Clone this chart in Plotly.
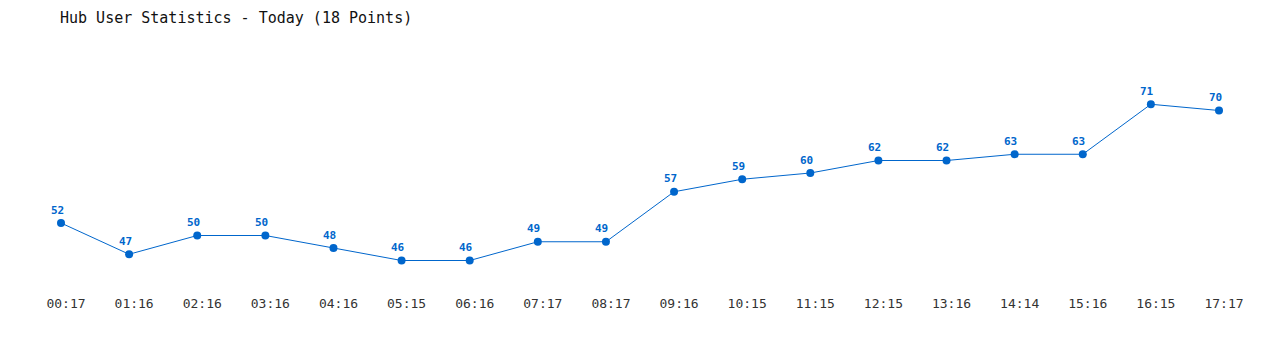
import plotly.graph_objects as go

times = ["00:17", "01:16", "02:16", "03:16", "04:16", "05:15", "06:16", "07:17", "08:17",
         "09:16", "10:15", "11:15", "12:15", "13:16", "14:14", "15:16", "16:15", "17:17"]
users = [52, 47, 50, 50, 48, 46, 46, 49, 49, 57, 59, 60, 62, 62, 63, 63, 71, 70]

idx = list(range(len(times)))
color = "#0066cc"

fig = go.Figure()
fig.add_trace(go.Scatter(
    x=idx, y=users, mode="lines+markers",
    line=dict(color=color, width=1),
    marker=dict(color=color, size=8),
    cliponaxis=False, hoverinfo="x+y",
))

for i, v in zip(idx, users):
    fig.add_annotation(x=i, y=v, text=str(v), showarrow=False,
                       xshift=-4, yshift=13, xanchor="center", yanchor="middle",
                       font=dict(family="DejaVu Sans Mono", size=11, color=color, weight="bold"))

fig.update_layout(
    width=1280, height=350,
    margin=dict(l=0, r=0, t=48, b=56),
    paper_bgcolor="white", plot_bgcolor="white",
    showlegend=False,
    title=dict(text="Hub User Statistics - Today (18 Points)", x=60/1280, xanchor="left",
               y=1 - 18/350, yanchor="middle",
               font=dict(family="DejaVu Sans Mono", size=15, color="#111")),
    xaxis=dict(range=[-0.8955, 17.8955], tickvals=idx, ticktext=times,
               showgrid=False, zeroline=False, showline=False, ticks="",
               ticklabelshift=5,
               tickfont=dict(family="DejaVu Sans Mono", size=13, color="#333")),
    yaxis=dict(range=[40.64, 80], visible=False, showgrid=False, zeroline=False),
)

fig.write_html("out.html")
